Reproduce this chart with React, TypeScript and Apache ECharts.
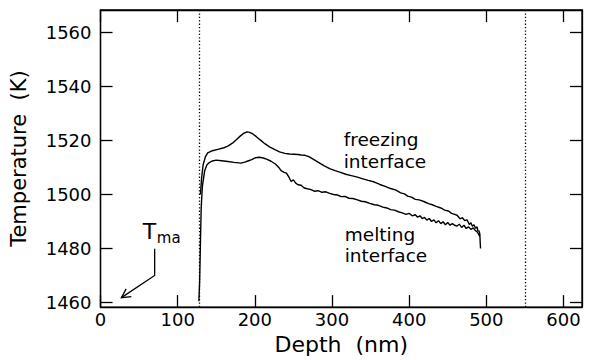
import React, { useEffect, useRef } from "react";
import * as echarts from "echarts";

// ---- data ----
const freezeDepth = [129.5, 131, 133, 136, 139, 145, 152, 160, 165, 171, 176, 181, 186, 190, 193, 197, 202, 207, 213, 219, 226, 232, 239, 245, 251, 256, 260, 265, 270, 276, 283, 290, 297, 304, 311, 318, 325, 333, 340, 347, 355, 362, 369, 376, 383, 389, 394, 398, 403, 408, 413, 419, 425, 430, 435, 441, 446, 451, 455, 459, 462, 466, 469, 472, 475, 478, 480, 482, 484, 486, 488, 489, 490.5, 491.5, 492.5];
const freezeTemp = [1500, 1506, 1511, 1514, 1515.4, 1516.2, 1516.7, 1517.3, 1517.9, 1519, 1520.3, 1521.6, 1522.7, 1523.2, 1523, 1522.5, 1521.4, 1520.2, 1518.8, 1517.6, 1516.6, 1515.8, 1515.2, 1515, 1514.9, 1514.8, 1514.6, 1514.5, 1514, 1513, 1511.8, 1510.6, 1509.6, 1508.8, 1508.2, 1507.5, 1507, 1506.4, 1505.8, 1505.2, 1504.6, 1503.7, 1503, 1502.2, 1501.6, 1500.6, 1500.2, 1499.4, 1499, 1498.2, 1498, 1497.4, 1496.6, 1496.2, 1495.6, 1495, 1494.2, 1493.9, 1493, 1492.6, 1492.3, 1491, 1491.4, 1490.3, 1490.6, 1488.9, 1489.5, 1488.2, 1488.8, 1487.5, 1488, 1486.6, 1486.5, 1485.5, 1480];

const meltDepth = [127.5, 128.5, 129.5, 130.5, 132, 135, 138, 141, 145, 150, 157, 165, 173, 182, 187, 191, 196, 201, 206, 211, 216, 221, 227, 231, 234, 238, 241, 244, 247, 250, 253, 256, 260, 264, 268, 272, 277, 282, 287, 292, 297, 302, 307, 312, 317, 322, 327, 333, 338, 343, 349, 355, 360, 366, 371, 376, 381, 386, 391, 396, 400, 404, 408, 411, 414, 417, 420, 423, 426, 429, 432, 435, 438, 441, 444, 447, 450, 453, 456, 459, 462, 465, 468, 471, 474, 477, 480, 483, 486, 488, 490, 491.5];
const meltTemp = [1460.5, 1468, 1482, 1495, 1503, 1508.8, 1511, 1511.8, 1512.4, 1512.7, 1512.5, 1512.2, 1511.9, 1511.6, 1512, 1512.4, 1512.9, 1513.6, 1513.8, 1513.5, 1513, 1512.3, 1511.2, 1510, 1508.8, 1508.2, 1507.9, 1506.5, 1504.8, 1505.4, 1504.2, 1503.6, 1503.4, 1502.4, 1502.1, 1501.9, 1501.2, 1501.4, 1500.8, 1501, 1500.4, 1500, 1499.8, 1499.2, 1499.3, 1498.6, 1498.5, 1498, 1497.5, 1497.3, 1496.7, 1496.2, 1496, 1495.3, 1495, 1494.4, 1494.2, 1493.6, 1493.2, 1492.6, 1493, 1492.1, 1492.5, 1491.6, 1492.1, 1491.1, 1491.5, 1490.5, 1491.1, 1490, 1490.6, 1489.5, 1490.3, 1489.2, 1489.9, 1488.8, 1489.6, 1488.6, 1489.2, 1488.6, 1488.3, 1489, 1487.8, 1488.6, 1487.4, 1488, 1487.1, 1487.6, 1486.6, 1486.2, 1485.3, 1484.5];

const xTicks = [0, 100, 200, 300, 400, 500, 600];
const yTicks = [1460, 1480, 1500, 1520, 1540, 1560];
const xRange = [0, 624];
const yRange = [1458.3, 1568.3];
const boundaryDepths = [128, 550];

// annotation anchors in data units [depth, temperature]
const tmaArrow = [[70.2, 1479.9], [70.2, 1470], [27.1, 1461.8]];

const FONT = '"DejaVu Sans", sans-serif';

const zip = (a: number[], b: number[]) => a.map((v, i) => [v, b[i]]);

export default function App() {
  const ref = useRef<HTMLDivElement>(null);
  useEffect(() => {
    if (!ref.current) return;
    const chart = echarts.init(ref.current, undefined, { renderer: "svg" });
    const axisLine = { show: true, onZero: false, lineStyle: { color: "#000", width: 1.3 } };
    const tickStyle = { color: "#000", width: 1.3 };
    const labelStyle = { color: "#000", fontSize: 18, fontFamily: FONT, formatter: (v: number) => String(v) };
    const lineStyle = { color: "#000", width: 1.4 };
    chart.setOption({
      animation: false,
      backgroundColor: "#fff",
      grid: { left: 99, right: 8, top: 10, bottom: 46, show: true, borderColor: "#000", borderWidth: 1.3, backgroundColor: "transparent" },
      xAxis: [
        {
          type: "value", min: xRange[0], max: xRange[1], position: "bottom",
          axisLine, splitLine: { show: false },
          axisTick: { show: true, inside: true, length: 12, customValues: xTicks, lineStyle: tickStyle },
          axisLabel: { ...labelStyle, customValues: xTicks, margin: 12, verticalAlign: "middle" },
          name: "Depth  (nm)", nameLocation: "middle", nameGap: 32,
          nameTextStyle: { color: "#000", fontSize: 22, fontFamily: FONT, verticalAlign: "middle" },
        },
        {
          type: "value", min: xRange[0], max: xRange[1], position: "top",
          axisLine, splitLine: { show: false },
          axisTick: { show: true, inside: true, length: 12, customValues: xTicks, lineStyle: tickStyle },
          axisLabel: { show: false },
        },
      ],
      yAxis: [
        {
          type: "value", min: yRange[0], max: yRange[1], position: "left",
          axisLine, splitLine: { show: false },
          axisTick: { show: true, inside: true, length: 12, customValues: yTicks, lineStyle: tickStyle },
          axisLabel: { ...labelStyle, customValues: yTicks, margin: 9 },
          name: "Temperature  (K)", nameLocation: "middle", nameGap: 82,
          nameTextStyle: { color: "#000", fontSize: 21, fontFamily: FONT, verticalAlign: "middle" },
        },
        {
          type: "value", min: yRange[0], max: yRange[1], position: "right",
          axisLine, splitLine: { show: false },
          axisTick: { show: true, inside: true, length: 12, customValues: yTicks, lineStyle: tickStyle },
          axisLabel: { show: false },
        },
      ],
      series: [
        {
          name: "freezing interface", type: "line", data: zip(freezeDepth, freezeTemp),
          showSymbol: false, symbol: "none", lineStyle, silent: true,
          markLine: {
            silent: true, symbol: ["none", "none"], label: { show: false },
            lineStyle: { color: "#000", width: 1.3, type: [1.3, 2.1] },
            data: boundaryDepths.map((v) => ({ xAxis: v })),
          },
        },
        {
          name: "melting interface", type: "line", data: zip(meltDepth, meltTemp),
          showSymbol: false, symbol: "none", lineStyle, silent: true,
        },
      ],
    });

    const px = (p: number[]) => chart.convertToPixel({ xAxisIndex: 0, yAxisIndex: 0 }, p) as number[];
    const textAt = (t: string, p: number[], size: number, lh?: number) => {
      const [x, y] = px(p);
      return {
        type: "text", x, y, silent: true,
        style: { text: t, fill: "#000", font: `${size}px ${FONT}`, lineHeight: lh, textAlign: "left", textVerticalAlign: "middle" },
      };
    };
    const a = tmaArrow.map(px);
    const tip = a[2], knee = a[1];
    const dx = knee[0] - tip[0], dy = knee[1] - tip[1];
    const len = Math.hypot(dx, dy);
    const ux = dx / len, uy = dy / len;
    const ang = (28 * Math.PI) / 180, L = 10;
    const rot = (s: number) => [tip[0] + L * (ux * Math.cos(s * ang) - uy * Math.sin(s * ang)), tip[1] + L * (ux * Math.sin(s * ang) + uy * Math.cos(s * ang))];
    const arm1 = rot(1), arm2 = rot(-1);
    const stroke = { stroke: "#000", lineWidth: 1.3, fill: "none" };

    chart.setOption({
      graphic: [
        textAt("freezing\ninterface", [315.2, 1516.2], 18.5, 21.5),
        textAt("melting\ninterface", [316.5, 1481.3], 18.5, 21.5),
        textAt("T", [54.9, 1486.3], 22),
        textAt("ma", [73, 1484.0], 15),
        { type: "polyline", silent: true, shape: { points: a }, style: stroke },
        { type: "polyline", silent: true, shape: { points: [arm1, tip, arm2] }, style: stroke },
      ],
    });

    return () => chart.dispose();
  }, []);
  return <div ref={ref} style={{ width: 590, height: 360, position: "absolute", left: 0, top: 0 }} />;
}
